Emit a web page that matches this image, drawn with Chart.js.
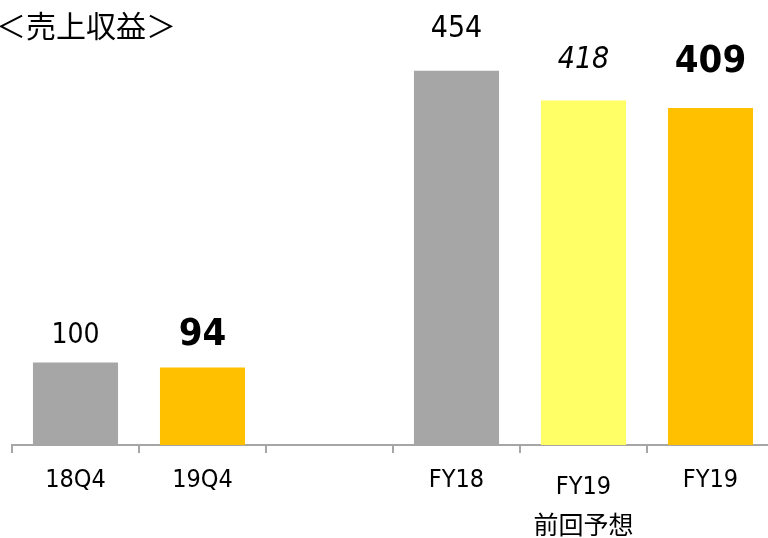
<!DOCTYPE html>
<html>
<head>
<meta charset="utf-8">
<script src="https://cdn.jsdelivr.net/npm/chart.js@4"></script>
<style>
  html, body { margin:0; padding:0; background:#fff; overflow:hidden; }
</style>
</head>
<body>
<canvas id="chart" width="774" height="538"></canvas>
<script>
// données
const categories = ['18Q4', '19Q4', '', 'FY18', ['FY19', '前回予想'], 'FY19'];
const values = [100, 94, null, 454, 418, 409];
const barColors = ['#A6A6A6', '#FFC000', '#FFFFFF', '#A6A6A6', '#FFFF66', '#FFC000'];
const titleText = '＜売上収益＞';

const FONT = '"DejaVu Sans Condensed", "DejaVu Sans", "Noto Sans CJK JP", sans-serif';

// style des étiquettes de valeur
const labelFonts = [
  '28px ' + FONT,
  'bold 38px ' + FONT,
  '',
  '30px ' + FONT,
  'italic 30px ' + FONT,
  'bold 38px ' + FONT
];
const labelGap = [20, 23, 0, 34, 33, 36];

const valueLabels = {
  id: 'valueLabels',
  afterDatasetsDraw(chart) {
    const ctx = chart.ctx;
    const meta = chart.getDatasetMeta(0);
    ctx.save();
    ctx.fillStyle = '#000';
    ctx.textAlign = 'center';
    ctx.textBaseline = 'alphabetic';
    meta.data.forEach((bar, i) => {
      if (values[i] == null) return;
      ctx.font = labelFonts[i];
      ctx.fillText(values[i], bar.x, bar.y - labelGap[i]);
    });
    // titre
    ctx.textAlign = 'left';
    ctx.textBaseline = 'middle';
    ctx.font = '30px "Noto Sans CJK JP"';
    ctx.fillText(titleText, -4, 26);
    ctx.restore();
  }
};

new Chart(document.getElementById('chart'), {
  type: 'bar',
  data: {
    labels: categories,
    datasets: [{
      data: values,
      backgroundColor: barColors,
      barPercentage: 0.67,
      categoryPercentage: 1
    }]
  },
  options: {
    responsive: false,
    animation: false,
    layout: { padding: { left: 12, right: 0, top: 0, bottom: 0 } },
    plugins: { legend: { display: false }, tooltip: { enabled: false } },
    scales: {
      x: {
        grid: {
          drawOnChartArea: false,
          drawTicks: true,
          tickLength: 8,
          color: '#A6A6A6',
          lineWidth: 2
        },
        border: { display: true, color: '#A6A6A6', width: 2 },
        ticks: {
          color: '#000',
          padding: 14,
          maxRotation: 0,
          autoSkip: false,
          font: (c) => ({
            family: FONT,
            size: 25,
            lineHeight: c.index === 4 ? '40px' : '26px'
          })
        },
        afterFit: (scale) => { scale.height = 93; }
      },
      y: {
        display: false,
        min: 0,
        max: 540
      }
    }
  },
  plugins: [valueLabels]
});
</script>
</body>
</html>
